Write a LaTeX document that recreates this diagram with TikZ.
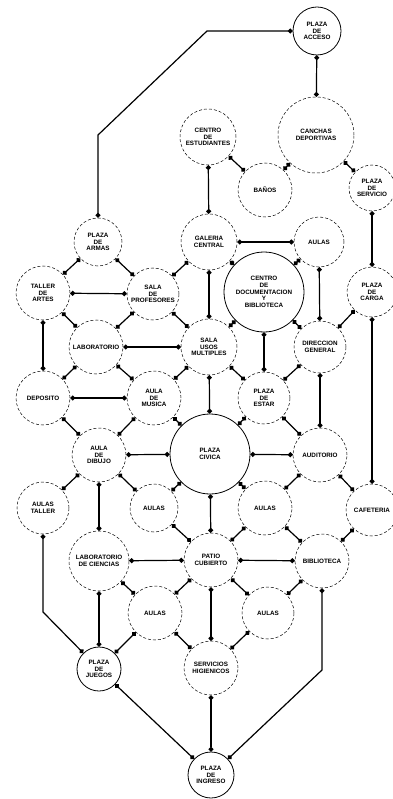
\documentclass[tikz,border=0pt]{standalone}
\usepackage{fontspec}
\setsansfont{Liberation Sans}
\usetikzlibrary{arrows.meta}

\begin{document}
\begin{tikzpicture}[x=1pt,y=-1pt,
    sala/.style={circle,draw,densely dashed,line width=.5pt,inner sep=0pt,align=center,
      font=\sffamily\bfseries\fontsize{6.3}{6.8}\selectfont},
    plaza/.style={sala,solid,line width=.8pt},
    enlace/.style={line width=1.2pt,{Circle[length=4.8pt]}-{Circle[length=4.8pt]}}]
    \useasboundingbox (0,0) rectangle (392,799);
    % recintos
    \node[plaza,minimum size=48pt] (pacceso) at (317,31) {PLAZA\\DE\\ACCESO};
    \node[sala,minimum size=76pt] (canchas) at (316,135) {CANCHAS\\DEPORTIVAS};
    \node[sala,minimum size=54pt] (banos) at (265,190) {BAÑOS};
    \node[sala,minimum size=56pt] (centro) at (208,137) {CENTRO\\DE\\ESTUDIANTES};
    \node[sala,minimum size=46pt] (pservicio) at (372,188) {PLAZA\\DE\\SERVICIO};
    \node[sala,minimum size=50pt] (pcarga) at (372,292) {PLAZA\\DE\\CARGA};
    \node[sala,minimum size=56pt] (galeria) at (209,242) {GALERIA\\CENTRAL};
    \node[sala,minimum size=50pt] (aulasa) at (319,242) {AULAS};
    \node[plaza,minimum size=80pt] (cdoc) at (264,292) {CENTRO\\DE\\DOCUMENTACION\\Y\\BIBLIOTECA};
    \node[sala,minimum size=56pt] (sum) at (209,347) {SALA\\USOS\\MULTIPLES};
    \node[sala,minimum size=52pt] (direccion) at (320,347) {DIRECCION\\GENERAL};
    \node[sala,minimum size=48pt] (parmas) at (98,242) {PLAZA\\DE\\ARMAS};
    \node[sala,minimum size=54pt] (taller) at (43,293) {TALLER\\DE\\ARTES};
    \node[sala,minimum size=52pt] (profes) at (153,294) {SALA\\DE\\PROFESORES};
    \node[sala,minimum size=54pt] (lab) at (96,347) {LABORATORIO};
    \node[sala,minimum size=54pt] (deposito) at (43,398) {DEPOSITO};
    \node[sala,minimum size=54pt] (musica) at (154,398) {AULA\\DE\\MUSICA};
    \node[sala,minimum size=52pt] (pestar) at (264,398) {PLAZA\\DE\\ESTAR};
    \node[plaza,minimum size=80pt] (pcivica) at (210,454) {PLAZA\\CIVICA};
    \node[sala,minimum size=54pt] (auditorio) at (320,455) {AUDITORIO};
    \node[sala,minimum size=54pt] (dibujo) at (99,455) {AULA\\DE\\DIBUJO};
    \node[sala,minimum size=52pt] (aulataller) at (43,508) {AULAS\\TALLER};
    \node[sala,minimum size=48pt] (aulasb) at (154,508) {AULAS};
    \node[sala,minimum size=54pt] (aulasc) at (265,508) {AULAS};
    \node[sala,minimum size=52pt] (cafeteria) at (372,510) {CAFETERIA};
    \node[sala,minimum size=60pt] (labcien) at (99,561) {LABORATORIO\\DE CIENCIAS};
    \node[sala,minimum size=54pt] (patio) at (211,560) {PATIO\\CUBIERTO};
    \node[sala,minimum size=54pt] (biblio) at (322,561) {BIBLIOTECA};
    \node[sala,minimum size=54pt] (aulasd) at (155,613) {AULAS};
    \node[sala,minimum size=52pt] (aulase) at (268,613) {AULAS};
    \node[sala,minimum size=54pt] (sshh) at (211,668) {SERVICIOS\\HIGIENICOS};
    \node[plaza,minimum size=44pt] (pjuegos) at (99,669) {PLAZA\\DE\\JUEGOS};
    \node[plaza,minimum size=46pt] (pingreso) at (211,775) {PLAZA\\DE\\INGRESO};
    % relaciones
    \draw[enlace] (pacceso) -- (canchas);
    \draw[enlace] (pacceso) -- (207,31) -- (98,135) -- (parmas);
    \draw[enlace] (canchas) -- (banos);
    \draw[enlace] (canchas) -- (pservicio);
    \draw[enlace] (centro) -- (banos);
    \draw[enlace] (centro) -- (galeria);
    \draw[enlace] (pservicio) -- (pcarga);
    \draw[enlace] (pcarga) -- (direccion);
    \draw[enlace] (pcarga) -- (cafeteria);
    \draw[enlace] (galeria) -- (aulasa);
    \draw[enlace] (galeria) -- (cdoc);
    \draw[enlace] (aulasa) -- (cdoc);
    \draw[enlace] (galeria) -- (sum);
    \draw[enlace] (aulasa) -- (direccion);
    \draw[enlace] (cdoc) -- (sum);
    \draw[enlace] (cdoc) -- (direccion);
    \draw[enlace] (cdoc) -- (pestar);
    \draw[enlace] (parmas) -- (taller);
    \draw[enlace] (parmas) -- (profes);
    \draw[enlace] (profes) -- (galeria);
    \draw[enlace] (taller) -- (profes);
    \draw[enlace] (taller) -- (lab);
    \draw[enlace] (profes) -- (lab);
    \draw[enlace] (profes) -- (sum);
    \draw[enlace] (taller) -- (deposito);
    \draw[enlace] (lab) -- (sum);
    \draw[enlace] (lab) -- (deposito);
    \draw[enlace] (lab) -- (musica);
    \draw[enlace] (deposito) -- (musica);
    \draw[enlace] (sum) -- (musica);
    \draw[enlace] (sum) -- (pestar);
    \draw[enlace] (sum) -- (pcivica);
    \draw[enlace] (direccion) -- (pestar);
    \draw[enlace] (direccion) -- (auditorio);
    \draw[enlace] (pestar) -- (pcivica);
    \draw[enlace] (pestar) -- (auditorio);
    \draw[enlace] (pcivica) -- (auditorio);
    \draw[enlace] (deposito) -- (dibujo);
    \draw[enlace] (musica) -- (dibujo);
    \draw[enlace] (musica) -- (pcivica);
    \draw[enlace] (dibujo) -- (pcivica);
    \draw[enlace] (dibujo) -- (aulataller);
    \draw[enlace] (dibujo) -- (aulasb);
    \draw[enlace] (dibujo) -- (labcien);
    \draw[enlace] (aulasb) -- (pcivica);
    \draw[enlace] (aulasb) -- (patio);
    \draw[enlace] (pcivica) -- (patio);
    \draw[enlace] (pcivica) -- (aulasc);
    \draw[enlace] (auditorio) -- (aulasc);
    \draw[enlace] (auditorio) -- (cafeteria);
    \draw[enlace] (aulasc) -- (patio);
    \draw[enlace] (aulasc) -- (biblio);
    \draw[enlace] (cafeteria) -- (biblio);
    \draw[enlace] (labcien) -- (patio);
    \draw[enlace] (patio) -- (biblio);
    \draw[enlace] (labcien) -- (aulasd);
    \draw[enlace] (patio) -- (aulasd);
    \draw[enlace] (patio) -- (sshh);
    \draw[enlace] (patio) -- (aulase);
    \draw[enlace] (biblio) -- (aulase);
    \draw[enlace] (labcien) -- (pjuegos);
    \draw[enlace] (aulasd) -- (pjuegos);
    \draw[enlace] (aulasd) -- (sshh);
    \draw[enlace] (aulase) -- (sshh);
    \draw[enlace] (aulataller) -- (43,612) -- (pjuegos);
    \draw[enlace] (biblio) -- (322,670) -- (pingreso);
    \draw[enlace] (pjuegos) -- (pingreso);
    \draw[enlace] (sshh) -- (pingreso);
\end{tikzpicture}
\end{document}
